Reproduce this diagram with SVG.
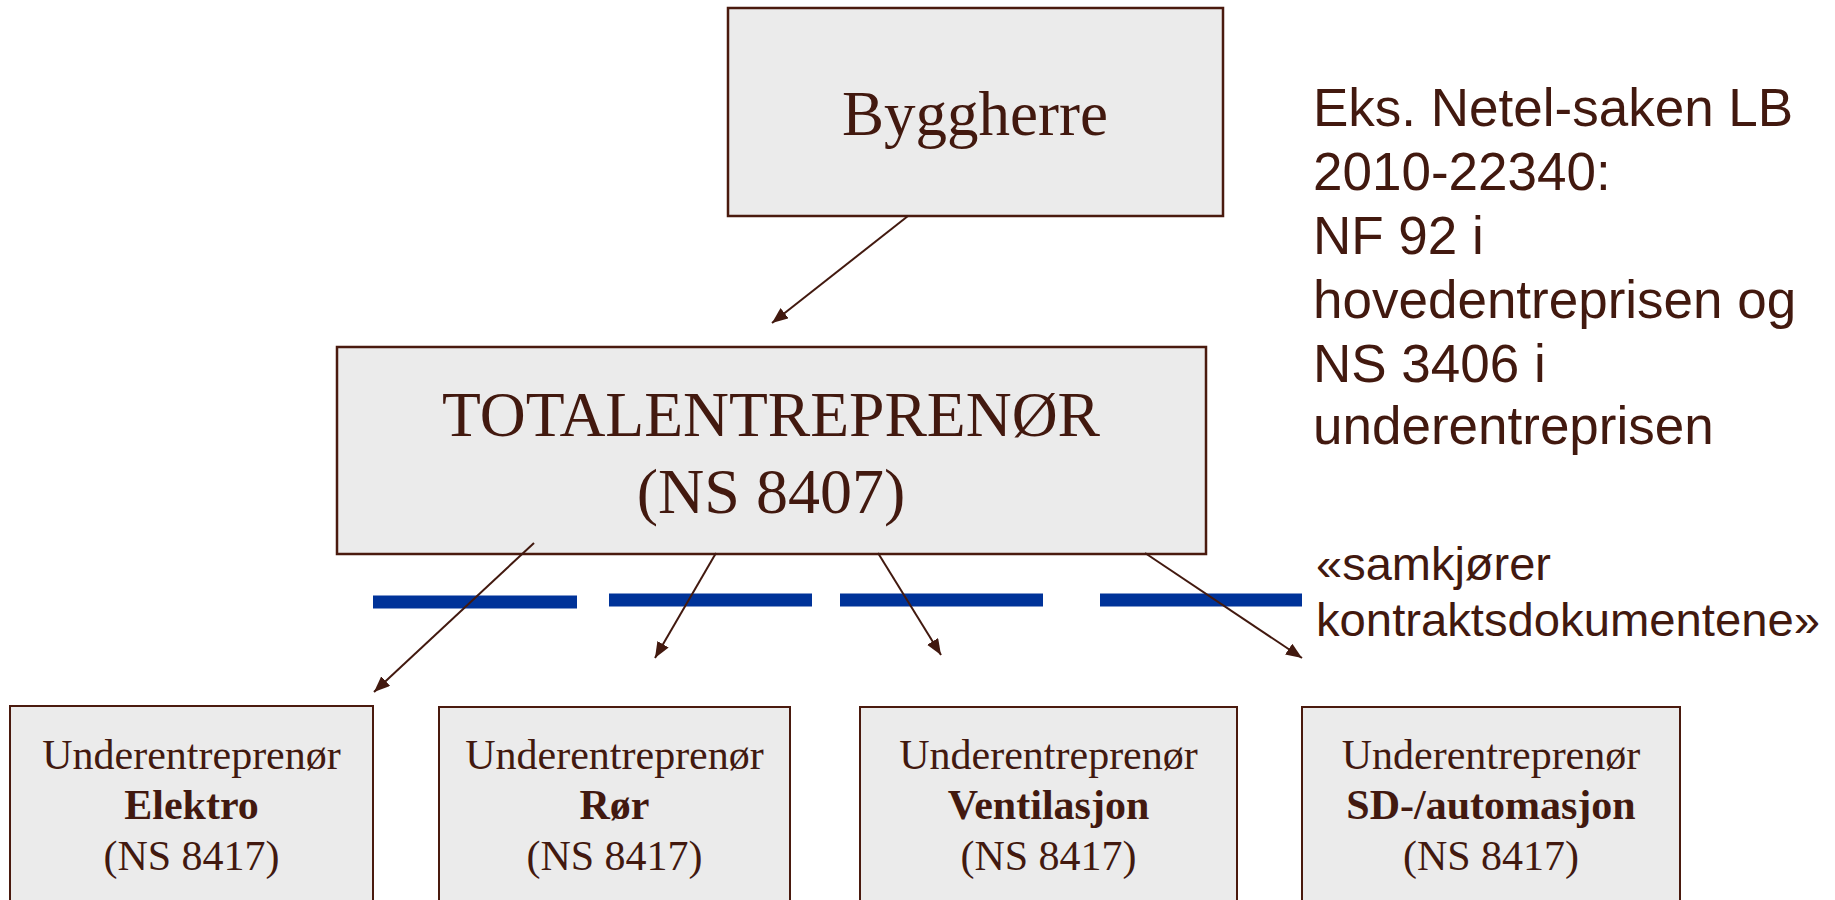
<svg xmlns="http://www.w3.org/2000/svg" width="1835" height="900" viewBox="0 0 1835 900">
<defs>
<style>
.box{fill:#ebebeb;stroke:#4a1a0e;stroke-width:2.5}
.cbox{fill:#ebebeb;stroke:#4a1a0e;stroke-width:2}
.serif{font-family:"Liberation Serif","Times New Roman",serif;fill:#42190f;text-anchor:middle}
.sans{font-family:"Liberation Sans",Arial,sans-serif;fill:#42190f}
.bar{stroke:#003399;stroke-width:13}
.conn{stroke:#42190f;stroke-width:2;fill:none;marker-end:url(#ah)}
</style>
<marker id="ah" markerUnits="userSpaceOnUse" markerWidth="18" markerHeight="14" refX="16" refY="6.5" orient="auto">
<path d="M0,0 L16,6.5 L0,13 z" fill="#42190f"/>
</marker>
</defs>
<rect width="1835" height="900" fill="#ffffff"/>

<g id="byggherre">
<rect class="box" x="728" y="8" width="495" height="208"/>
<text class="serif" x="975" y="135" font-size="63">Byggherre</text>
</g>

<g id="totalentreprenor">
<rect class="box" x="337" y="347" width="869" height="207"/>
<text class="serif" x="771" y="436" font-size="64" textLength="658" lengthAdjust="spacingAndGlyphs">TOTALENTREPRENØR</text>
<text class="serif" x="771" y="513" font-size="64">(NS 8407)</text>
</g>

<g id="note">
<text class="sans" x="1313" y="126" font-size="53">Eks. Netel-saken LB</text>
<text class="sans" x="1313" y="190" font-size="53">2010-22340:</text>
<text class="sans" x="1313" y="254" font-size="53">NF 92 i</text>
<text class="sans" x="1313" y="318" font-size="53">hovedentreprisen og</text>
<text class="sans" x="1313" y="382" font-size="53">NS 3406 i</text>
<text class="sans" x="1313" y="444" font-size="53">underentreprisen</text>
</g>

<g id="samkjorer">
<text class="sans" x="1316" y="580" font-size="47">«samkjører</text>
<text class="sans" x="1316" y="636" font-size="47" textLength="504" lengthAdjust="spacingAndGlyphs">kontraktsdokumentene»</text>
</g>

<g id="bars">
<line class="bar" x1="373" y1="602" x2="577" y2="602"/>
<line class="bar" x1="609" y1="600" x2="812" y2="600"/>
<line class="bar" x1="840" y1="600" x2="1043" y2="600"/>
<line class="bar" x1="1100" y1="600" x2="1302" y2="600"/>
</g>

<g id="ue-elektro">
<rect class="cbox" x="10" y="706" width="363" height="210"/>
<text class="serif" x="191.5" y="769" font-size="42">Underentreprenør</text>
<text class="serif" x="191.5" y="819" font-size="42" font-weight="bold">Elektro</text>
<text class="serif" x="191.5" y="870" font-size="42">(NS 8417)</text>
</g>

<g id="ue-ror">
<rect class="cbox" x="439" y="707" width="351" height="210"/>
<text class="serif" x="614.5" y="769" font-size="42">Underentreprenør</text>
<text class="serif" x="614.5" y="819" font-size="42" font-weight="bold">Rør</text>
<text class="serif" x="614.5" y="870" font-size="42">(NS 8417)</text>
</g>

<g id="ue-ventilasjon">
<rect class="cbox" x="860" y="707" width="377" height="210"/>
<text class="serif" x="1048.5" y="769" font-size="42">Underentreprenør</text>
<text class="serif" x="1048.5" y="819" font-size="42" font-weight="bold">Ventilasjon</text>
<text class="serif" x="1048.5" y="870" font-size="42">(NS 8417)</text>
</g>

<g id="ue-sd">
<rect class="cbox" x="1302" y="707" width="378" height="210"/>
<text class="serif" x="1491" y="769" font-size="42">Underentreprenør</text>
<text class="serif" x="1491" y="819" font-size="42" font-weight="bold">SD-/automasjon</text>
<text class="serif" x="1491" y="870" font-size="42">(NS 8417)</text>
</g>

<g id="connectors">
<line class="conn" x1="908" y1="216" x2="772" y2="323"/>
<line class="conn" x1="534" y1="543" x2="374" y2="692"/>
<line class="conn" x1="716" y1="553" x2="655" y2="658"/>
<line class="conn" x1="878" y1="553" x2="941" y2="655"/>
<line class="conn" x1="1145" y1="553" x2="1302" y2="658"/>
</g>
</svg>
